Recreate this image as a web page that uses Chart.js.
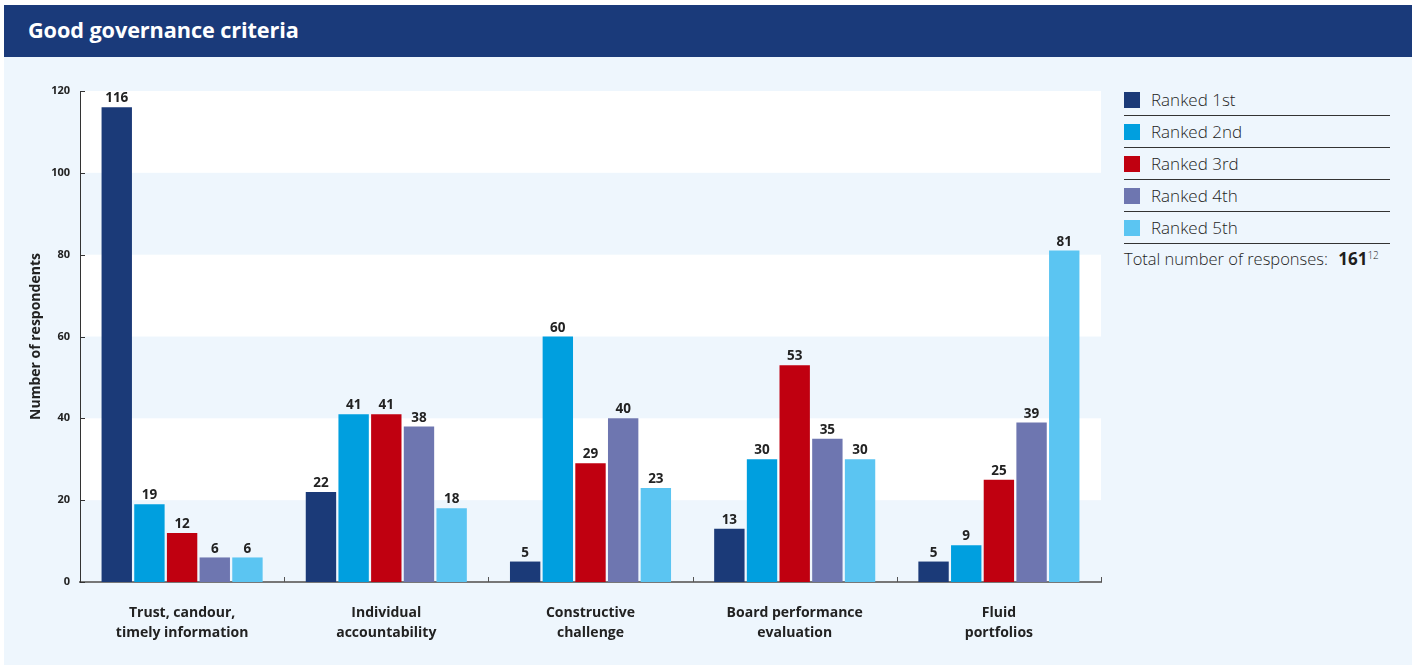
<!DOCTYPE html>
<html>
<head>
<meta charset="utf-8">
<script src="https://cdn.jsdelivr.net/npm/chart.js@4"></script>
<style>
  body { margin: 0; background: #fff; font-family: "Open Sans", sans-serif; }
  .panel { position: absolute; left: 4px; top: 5px; width: 1408px; height: 660px; background: #eef6fd; }
  .head { position: absolute; left: 0; top: 0; width: 1408px; height: 52px; background: #1a3a7a; }
  .head h1 { margin: 0; position: absolute; left: 24px; top: 10px; color: #fff; font-size: 21.7px; font-weight: 700; letter-spacing: -0.1px; }
  .wrap { position: absolute; left: -4px; top: 52px; width: 1110px; height: 608px; }
  .legend { position: absolute; left: 1120px; top: 79px; width: 266px; }
  .row { height: 31px; border-bottom: 1px solid #333; display: flex; align-items: center; font-size: 17px; color: #1e1e1e; font-weight: 300; }
  .row span.sw { width: 16px; height: 16px; margin-right: 11px; }
  .total { margin-top: 3px; font-size: 16.5px; color: #1e1e1e; font-weight: 300; }
  .total b { font-weight: 700; font-size: 17px; margin-left: 6px; }
  .total sup { font-size: 10px; }
</style>
</head>
<body>
<div class="panel">
  <div class="head"><h1>Good governance criteria</h1></div>
  <div class="wrap"><canvas id="c"></canvas></div>
  <div class="legend" id="legend"></div>
</div>
<script>
const categories = [
  ['Trust, candour,', 'timely information'],
  ['Individual', 'accountability'],
  ['Constructive', 'challenge'],
  ['Board performance', 'evaluation'],
  ['Fluid', 'portfolios']
];
const seriesNames = ['Ranked 1st', 'Ranked 2nd', 'Ranked 3rd', 'Ranked 4th', 'Ranked 5th'];
const ranked1 = [116, 22, 5, 13, 5];
const ranked2 = [19, 41, 60, 30, 9];
const ranked3 = [12, 41, 29, 53, 25];
const ranked4 = [6, 38, 40, 35, 39];
const ranked5 = [6, 18, 23, 30, 81];
const colors = ['#1b3a78', '#009fdf', '#c00010', '#6e76b0', '#5bc5f2'];
const totalResponses = 161;

const legend = document.getElementById('legend');
seriesNames.forEach((n, i) => {
  const d = document.createElement('div');
  d.className = 'row';
  d.innerHTML = '<span class="sw" style="background:' + colors[i] + '"></span>' + n;
  legend.appendChild(d);
});
const t = document.createElement('div');
t.className = 'total';
t.innerHTML = 'Total number of responses: <b>' + totalResponses + '</b><sup>12</sup>';
legend.appendChild(t);

const bands = {
  id: 'bands',
  beforeDraw(chart) {
    const { ctx, chartArea: a, scales: { y } } = chart;
    ctx.save();
    for (let v = 20; v < 120; v += 40) {
      const top = y.getPixelForValue(v + 20), bot = y.getPixelForValue(v);
      ctx.fillStyle = '#ffffff';
      ctx.fillRect(a.left, top, a.right - a.left, bot - top);
    }
    ctx.restore();
  },
  afterDraw(chart) {
    const { ctx, chartArea: a, scales: { x, y } } = chart;
    ctx.save();
    ctx.strokeStyle = '#333';
    ctx.lineWidth = 1;
    y.ticks.forEach(tk => {
      const py = Math.round(y.getPixelForValue(tk.value)) + 0.5;
      ctx.beginPath(); ctx.moveTo(a.left, py); ctx.lineTo(a.left + 5, py); ctx.stroke();
    });
    ctx.strokeStyle = '#555';
    const step = x.getPixelForValue(1) - x.getPixelForValue(0);
    for (let i = 0; i < categories.length; i++) {
      const px = Math.round(x.getPixelForValue(i) + step / 2) + 0.5;
      ctx.beginPath(); ctx.moveTo(px, a.bottom); ctx.lineTo(px, a.bottom - 5); ctx.stroke();
    }
    // value labels
    ctx.fillStyle = '#222';
    ctx.font = 'bold 13.5px "Open Sans"';
    ctx.textAlign = 'center';
    ctx.textBaseline = 'bottom';
    chart.data.datasets.forEach((ds, di) => {
      chart.getDatasetMeta(di).data.forEach((bar, i) => {
        ctx.fillText(ds.data[i], bar.x, bar.y - 2);
      });
    });
    ctx.restore();
  }
};

new Chart(document.getElementById('c'), {
  type: 'bar',
  data: {
    labels: categories,
    datasets: [ranked1, ranked2, ranked3, ranked4, ranked5].map((d, i) => ({
      label: seriesNames[i],
      data: d,
      backgroundColor: colors[i],
      categoryPercentage: 0.8,
      barPercentage: 0.93
    }))
  },
  options: {
    responsive: true,
    maintainAspectRatio: false,
    animation: false,
    layout: { padding: { top: 34, right: 9, left: 28, bottom: 0 } },
    plugins: { legend: { display: false }, tooltip: { enabled: false } },
    scales: {
      x: {
        grid: { display: false, drawTicks: false },
        border: { display: true, color: '#777', width: 2 },
        ticks: { color: '#222', font: { family: 'Open Sans', weight: 'bold', size: 14, lineHeight: 1.45 }, padding: 21, maxRotation: 0 },
        afterFit(s) { s.height = 83; }
      },
      y: {
        min: 0, max: 120,
        grid: { display: false, drawTicks: false },
        border: { display: true, color: '#333', width: 1 },
        ticks: { stepSize: 20, color: '#222', font: { family: 'Open Sans', weight: 'bold', size: 11 }, padding: 10 },
        title: { display: true, text: 'Number of respondents', color: '#222', font: { family: 'Open Sans', weight: 'bold', size: 14 }, padding: 0 },
        afterFit(s) { s.width = 52; }
      }
    }
  },
  plugins: [bands]
});
</script>
</body>
</html>
